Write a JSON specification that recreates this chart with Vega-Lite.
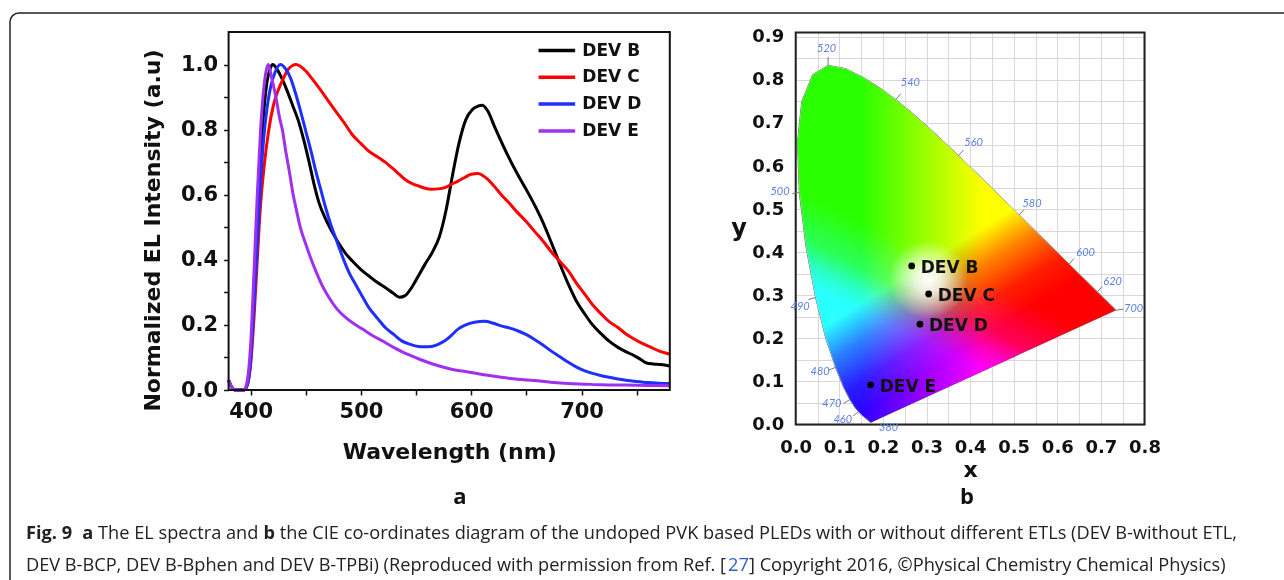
{
  "$schema": "https://vega.github.io/schema/vega-lite/v6.json",
  "width": 1284,
  "height": 580,
  "autosize": {"type": "fit", "contains": "padding"},
  "padding": {"left": 10, "top": 13, "right": -8, "bottom": -8},
  "background": "white",
  "config": {
    "view": {"stroke": "#222222", "strokeWidth": 1.5, "cornerRadius": 9},
    "axis": {
      "labelFont": "DejaVu Sans", "titleFont": "DejaVu Sans",
      "labelFontWeight": "bold", "titleFontWeight": "bold",
      "labelColor": "#111111", "titleColor": "#111111",
      "labelOverlap": false, "labelFlush": false, "domain": false
    },
    "legend": {
      "orient": "none", "legendX": 535.85, "legendY": 26.5, "padding": 0,
      "symbolType": "M-2,0H2", "symbolSize": 335, "symbolStrokeWidth": 3.5,
      "labelFont": "DejaVu Sans", "labelFontWeight": "bold", "labelFontSize": 17,
      "labelColor": "#111111", "labelOffset": 14.5, "rowPadding": 7.8
    }
  },
  "datasets": {
    "spectra": [
      {"dev": "DEV B", "nm": 380, "v": 0.03}, {"dev": "DEV B", "nm": 383, "v": 0.008}, {"dev": "DEV B", "nm": 386, "v": 0}, {"dev": "DEV B", "nm": 390, "v": 0}, {"dev": "DEV B", "nm": 394, "v": 0}, {"dev": "DEV B", "nm": 397, "v": 0.02},
      {"dev": "DEV B", "nm": 400, "v": 0.1}, {"dev": "DEV B", "nm": 403, "v": 0.3}, {"dev": "DEV B", "nm": 406, "v": 0.52}, {"dev": "DEV B", "nm": 409, "v": 0.72}, {"dev": "DEV B", "nm": 412, "v": 0.86}, {"dev": "DEV B", "nm": 415, "v": 0.95},
      {"dev": "DEV B", "nm": 418, "v": 0.99}, {"dev": "DEV B", "nm": 420, "v": 1.0}, {"dev": "DEV B", "nm": 424, "v": 0.985}, {"dev": "DEV B", "nm": 428, "v": 0.96}, {"dev": "DEV B", "nm": 433, "v": 0.92}, {"dev": "DEV B", "nm": 438, "v": 0.875},
      {"dev": "DEV B", "nm": 443, "v": 0.83}, {"dev": "DEV B", "nm": 448, "v": 0.77}, {"dev": "DEV B", "nm": 453, "v": 0.7}, {"dev": "DEV B", "nm": 458, "v": 0.625}, {"dev": "DEV B", "nm": 462, "v": 0.575}, {"dev": "DEV B", "nm": 468, "v": 0.525},
      {"dev": "DEV B", "nm": 474, "v": 0.485}, {"dev": "DEV B", "nm": 480, "v": 0.45}, {"dev": "DEV B", "nm": 486, "v": 0.42}, {"dev": "DEV B", "nm": 492, "v": 0.397}, {"dev": "DEV B", "nm": 500, "v": 0.37}, {"dev": "DEV B", "nm": 507, "v": 0.351},
      {"dev": "DEV B", "nm": 515, "v": 0.33}, {"dev": "DEV B", "nm": 522, "v": 0.315}, {"dev": "DEV B", "nm": 529, "v": 0.298}, {"dev": "DEV B", "nm": 535, "v": 0.285}, {"dev": "DEV B", "nm": 540, "v": 0.29}, {"dev": "DEV B", "nm": 546, "v": 0.315},
      {"dev": "DEV B", "nm": 552, "v": 0.35}, {"dev": "DEV B", "nm": 558, "v": 0.386}, {"dev": "DEV B", "nm": 565, "v": 0.425}, {"dev": "DEV B", "nm": 571, "v": 0.47}, {"dev": "DEV B", "nm": 577, "v": 0.55}, {"dev": "DEV B", "nm": 583, "v": 0.66},
      {"dev": "DEV B", "nm": 589, "v": 0.76}, {"dev": "DEV B", "nm": 595, "v": 0.83}, {"dev": "DEV B", "nm": 601, "v": 0.862}, {"dev": "DEV B", "nm": 606, "v": 0.872}, {"dev": "DEV B", "nm": 610, "v": 0.875}, {"dev": "DEV B", "nm": 615, "v": 0.857},
      {"dev": "DEV B", "nm": 621, "v": 0.81}, {"dev": "DEV B", "nm": 627, "v": 0.765}, {"dev": "DEV B", "nm": 634, "v": 0.715}, {"dev": "DEV B", "nm": 642, "v": 0.663}, {"dev": "DEV B", "nm": 650, "v": 0.615}, {"dev": "DEV B", "nm": 657, "v": 0.571},
      {"dev": "DEV B", "nm": 665, "v": 0.515}, {"dev": "DEV B", "nm": 672, "v": 0.458}, {"dev": "DEV B", "nm": 680, "v": 0.39}, {"dev": "DEV B", "nm": 688, "v": 0.325}, {"dev": "DEV B", "nm": 695, "v": 0.275}, {"dev": "DEV B", "nm": 703, "v": 0.233},
      {"dev": "DEV B", "nm": 710, "v": 0.2}, {"dev": "DEV B", "nm": 718, "v": 0.172}, {"dev": "DEV B", "nm": 725, "v": 0.15}, {"dev": "DEV B", "nm": 733, "v": 0.131}, {"dev": "DEV B", "nm": 740, "v": 0.118}, {"dev": "DEV B", "nm": 748, "v": 0.105},
      {"dev": "DEV B", "nm": 754, "v": 0.093}, {"dev": "DEV B", "nm": 759, "v": 0.083}, {"dev": "DEV B", "nm": 765, "v": 0.08}, {"dev": "DEV B", "nm": 772, "v": 0.078}, {"dev": "DEV B", "nm": 780, "v": 0.074},

      {"dev": "DEV C", "nm": 380, "v": 0.03}, {"dev": "DEV C", "nm": 383, "v": 0.008}, {"dev": "DEV C", "nm": 386, "v": 0}, {"dev": "DEV C", "nm": 390, "v": 0}, {"dev": "DEV C", "nm": 394, "v": 0}, {"dev": "DEV C", "nm": 397, "v": 0.015},
      {"dev": "DEV C", "nm": 400, "v": 0.08}, {"dev": "DEV C", "nm": 403, "v": 0.22}, {"dev": "DEV C", "nm": 406, "v": 0.4}, {"dev": "DEV C", "nm": 409, "v": 0.57}, {"dev": "DEV C", "nm": 412, "v": 0.68}, {"dev": "DEV C", "nm": 416, "v": 0.79},
      {"dev": "DEV C", "nm": 421, "v": 0.88}, {"dev": "DEV C", "nm": 426, "v": 0.93}, {"dev": "DEV C", "nm": 430, "v": 0.96}, {"dev": "DEV C", "nm": 434, "v": 0.985}, {"dev": "DEV C", "nm": 438, "v": 0.997}, {"dev": "DEV C", "nm": 441, "v": 1.0},
      {"dev": "DEV C", "nm": 445, "v": 0.995}, {"dev": "DEV C", "nm": 450, "v": 0.98}, {"dev": "DEV C", "nm": 456, "v": 0.955}, {"dev": "DEV C", "nm": 462, "v": 0.928}, {"dev": "DEV C", "nm": 470, "v": 0.89}, {"dev": "DEV C", "nm": 477, "v": 0.857},
      {"dev": "DEV C", "nm": 485, "v": 0.82}, {"dev": "DEV C", "nm": 492, "v": 0.785}, {"dev": "DEV C", "nm": 500, "v": 0.757}, {"dev": "DEV C", "nm": 507, "v": 0.734}, {"dev": "DEV C", "nm": 516, "v": 0.714}, {"dev": "DEV C", "nm": 522, "v": 0.7},
      {"dev": "DEV C", "nm": 528, "v": 0.683}, {"dev": "DEV C", "nm": 534, "v": 0.665}, {"dev": "DEV C", "nm": 540, "v": 0.647}, {"dev": "DEV C", "nm": 546, "v": 0.635}, {"dev": "DEV C", "nm": 552, "v": 0.627}, {"dev": "DEV C", "nm": 558, "v": 0.62},
      {"dev": "DEV C", "nm": 564, "v": 0.617}, {"dev": "DEV C", "nm": 570, "v": 0.618}, {"dev": "DEV C", "nm": 576, "v": 0.622}, {"dev": "DEV C", "nm": 582, "v": 0.632}, {"dev": "DEV C", "nm": 588, "v": 0.642}, {"dev": "DEV C", "nm": 594, "v": 0.653},
      {"dev": "DEV C", "nm": 600, "v": 0.663}, {"dev": "DEV C", "nm": 606, "v": 0.665}, {"dev": "DEV C", "nm": 610, "v": 0.66}, {"dev": "DEV C", "nm": 615, "v": 0.647}, {"dev": "DEV C", "nm": 621, "v": 0.625}, {"dev": "DEV C", "nm": 627, "v": 0.601},
      {"dev": "DEV C", "nm": 635, "v": 0.572}, {"dev": "DEV C", "nm": 642, "v": 0.545}, {"dev": "DEV C", "nm": 650, "v": 0.517}, {"dev": "DEV C", "nm": 657, "v": 0.489}, {"dev": "DEV C", "nm": 665, "v": 0.458}, {"dev": "DEV C", "nm": 672, "v": 0.427},
      {"dev": "DEV C", "nm": 680, "v": 0.396}, {"dev": "DEV C", "nm": 688, "v": 0.366}, {"dev": "DEV C", "nm": 695, "v": 0.33}, {"dev": "DEV C", "nm": 703, "v": 0.294}, {"dev": "DEV C", "nm": 710, "v": 0.262}, {"dev": "DEV C", "nm": 718, "v": 0.233},
      {"dev": "DEV C", "nm": 725, "v": 0.21}, {"dev": "DEV C", "nm": 733, "v": 0.192}, {"dev": "DEV C", "nm": 740, "v": 0.173}, {"dev": "DEV C", "nm": 748, "v": 0.156}, {"dev": "DEV C", "nm": 755, "v": 0.143}, {"dev": "DEV C", "nm": 763, "v": 0.131},
      {"dev": "DEV C", "nm": 770, "v": 0.12}, {"dev": "DEV C", "nm": 780, "v": 0.11},

      {"dev": "DEV D", "nm": 380, "v": 0.03}, {"dev": "DEV D", "nm": 383, "v": 0.008}, {"dev": "DEV D", "nm": 386, "v": 0}, {"dev": "DEV D", "nm": 390, "v": 0}, {"dev": "DEV D", "nm": 394, "v": 0}, {"dev": "DEV D", "nm": 397, "v": 0.015},
      {"dev": "DEV D", "nm": 400, "v": 0.09}, {"dev": "DEV D", "nm": 403, "v": 0.26}, {"dev": "DEV D", "nm": 406, "v": 0.45}, {"dev": "DEV D", "nm": 409, "v": 0.64}, {"dev": "DEV D", "nm": 412, "v": 0.78}, {"dev": "DEV D", "nm": 415, "v": 0.87},
      {"dev": "DEV D", "nm": 418, "v": 0.93}, {"dev": "DEV D", "nm": 422, "v": 0.975}, {"dev": "DEV D", "nm": 427, "v": 1.0}, {"dev": "DEV D", "nm": 432, "v": 0.985}, {"dev": "DEV D", "nm": 436, "v": 0.96}, {"dev": "DEV D", "nm": 441, "v": 0.908},
      {"dev": "DEV D", "nm": 445, "v": 0.86}, {"dev": "DEV D", "nm": 450, "v": 0.795}, {"dev": "DEV D", "nm": 455, "v": 0.73}, {"dev": "DEV D", "nm": 459, "v": 0.673}, {"dev": "DEV D", "nm": 464, "v": 0.61}, {"dev": "DEV D", "nm": 468, "v": 0.56},
      {"dev": "DEV D", "nm": 472, "v": 0.515}, {"dev": "DEV D", "nm": 477, "v": 0.468}, {"dev": "DEV D", "nm": 481, "v": 0.43}, {"dev": "DEV D", "nm": 486, "v": 0.386}, {"dev": "DEV D", "nm": 490, "v": 0.355}, {"dev": "DEV D", "nm": 495, "v": 0.325},
      {"dev": "DEV D", "nm": 500, "v": 0.295}, {"dev": "DEV D", "nm": 507, "v": 0.254}, {"dev": "DEV D", "nm": 515, "v": 0.22}, {"dev": "DEV D", "nm": 522, "v": 0.192}, {"dev": "DEV D", "nm": 530, "v": 0.17}, {"dev": "DEV D", "nm": 537, "v": 0.151},
      {"dev": "DEV D", "nm": 545, "v": 0.14}, {"dev": "DEV D", "nm": 552, "v": 0.134}, {"dev": "DEV D", "nm": 558, "v": 0.133}, {"dev": "DEV D", "nm": 564, "v": 0.134}, {"dev": "DEV D", "nm": 570, "v": 0.14}, {"dev": "DEV D", "nm": 576, "v": 0.151},
      {"dev": "DEV D", "nm": 582, "v": 0.168}, {"dev": "DEV D", "nm": 588, "v": 0.187}, {"dev": "DEV D", "nm": 595, "v": 0.2}, {"dev": "DEV D", "nm": 603, "v": 0.208}, {"dev": "DEV D", "nm": 612, "v": 0.211}, {"dev": "DEV D", "nm": 620, "v": 0.205},
      {"dev": "DEV D", "nm": 627, "v": 0.197}, {"dev": "DEV D", "nm": 635, "v": 0.19}, {"dev": "DEV D", "nm": 642, "v": 0.182}, {"dev": "DEV D", "nm": 650, "v": 0.17}, {"dev": "DEV D", "nm": 657, "v": 0.156}, {"dev": "DEV D", "nm": 665, "v": 0.138},
      {"dev": "DEV D", "nm": 672, "v": 0.121}, {"dev": "DEV D", "nm": 680, "v": 0.103}, {"dev": "DEV D", "nm": 688, "v": 0.085}, {"dev": "DEV D", "nm": 695, "v": 0.071}, {"dev": "DEV D", "nm": 703, "v": 0.059}, {"dev": "DEV D", "nm": 710, "v": 0.051},
      {"dev": "DEV D", "nm": 718, "v": 0.044}, {"dev": "DEV D", "nm": 725, "v": 0.039}, {"dev": "DEV D", "nm": 733, "v": 0.034}, {"dev": "DEV D", "nm": 740, "v": 0.03}, {"dev": "DEV D", "nm": 748, "v": 0.027}, {"dev": "DEV D", "nm": 760, "v": 0.023},
      {"dev": "DEV D", "nm": 770, "v": 0.021}, {"dev": "DEV D", "nm": 780, "v": 0.02},

      {"dev": "DEV E", "nm": 380, "v": 0.03}, {"dev": "DEV E", "nm": 383, "v": 0.008}, {"dev": "DEV E", "nm": 386, "v": 0}, {"dev": "DEV E", "nm": 390, "v": 0}, {"dev": "DEV E", "nm": 394, "v": 0}, {"dev": "DEV E", "nm": 397, "v": 0.03},
      {"dev": "DEV E", "nm": 400, "v": 0.14}, {"dev": "DEV E", "nm": 403, "v": 0.36}, {"dev": "DEV E", "nm": 406, "v": 0.6}, {"dev": "DEV E", "nm": 409, "v": 0.8}, {"dev": "DEV E", "nm": 412, "v": 0.93}, {"dev": "DEV E", "nm": 414, "v": 0.98},
      {"dev": "DEV E", "nm": 416, "v": 1.0}, {"dev": "DEV E", "nm": 419, "v": 0.96}, {"dev": "DEV E", "nm": 423, "v": 0.898}, {"dev": "DEV E", "nm": 426, "v": 0.84}, {"dev": "DEV E", "nm": 429, "v": 0.795}, {"dev": "DEV E", "nm": 432, "v": 0.73},
      {"dev": "DEV E", "nm": 435, "v": 0.673}, {"dev": "DEV E", "nm": 438, "v": 0.61}, {"dev": "DEV E", "nm": 441, "v": 0.56}, {"dev": "DEV E", "nm": 445, "v": 0.5}, {"dev": "DEV E", "nm": 450, "v": 0.448}, {"dev": "DEV E", "nm": 455, "v": 0.4},
      {"dev": "DEV E", "nm": 459, "v": 0.366}, {"dev": "DEV E", "nm": 465, "v": 0.32}, {"dev": "DEV E", "nm": 471, "v": 0.284}, {"dev": "DEV E", "nm": 478, "v": 0.25}, {"dev": "DEV E", "nm": 486, "v": 0.223}, {"dev": "DEV E", "nm": 493, "v": 0.205},
      {"dev": "DEV E", "nm": 501, "v": 0.188}, {"dev": "DEV E", "nm": 510, "v": 0.168}, {"dev": "DEV E", "nm": 522, "v": 0.146}, {"dev": "DEV E", "nm": 530, "v": 0.13}, {"dev": "DEV E", "nm": 537, "v": 0.118}, {"dev": "DEV E", "nm": 545, "v": 0.106},
      {"dev": "DEV E", "nm": 552, "v": 0.096}, {"dev": "DEV E", "nm": 565, "v": 0.08}, {"dev": "DEV E", "nm": 582, "v": 0.064}, {"dev": "DEV E", "nm": 600, "v": 0.054}, {"dev": "DEV E", "nm": 615, "v": 0.045}, {"dev": "DEV E", "nm": 627, "v": 0.039},
      {"dev": "DEV E", "nm": 642, "v": 0.033}, {"dev": "DEV E", "nm": 657, "v": 0.029}, {"dev": "DEV E", "nm": 672, "v": 0.024}, {"dev": "DEV E", "nm": 688, "v": 0.02}, {"dev": "DEV E", "nm": 703, "v": 0.018}, {"dev": "DEV E", "nm": 718, "v": 0.016},
      {"dev": "DEV E", "nm": 740, "v": 0.015}, {"dev": "DEV E", "nm": 760, "v": 0.014}, {"dev": "DEV E", "nm": 780, "v": 0.013}
    ],
    "locus": [
      {"nm": 380, "cx": 0.1741, "cy": 0.0050}, {"nm": 400, "cx": 0.1733, "cy": 0.0048}, {"nm": 410, "cx": 0.1726, "cy": 0.0048}, {"nm": 420, "cx": 0.1714, "cy": 0.0051},
      {"nm": 430, "cx": 0.1689, "cy": 0.0069}, {"nm": 440, "cx": 0.1644, "cy": 0.0109}, {"nm": 450, "cx": 0.1566, "cy": 0.0177}, {"nm": 455, "cx": 0.1510, "cy": 0.0223},
      {"nm": 460, "cx": 0.1440, "cy": 0.0297}, {"nm": 465, "cx": 0.1355, "cy": 0.0399}, {"nm": 470, "cx": 0.1241, "cy": 0.0578}, {"nm": 475, "cx": 0.1096, "cy": 0.0868},
      {"nm": 480, "cx": 0.0913, "cy": 0.1327}, {"nm": 485, "cx": 0.0687, "cy": 0.2007}, {"nm": 490, "cx": 0.0454, "cy": 0.2950}, {"nm": 495, "cx": 0.0235, "cy": 0.4127},
      {"nm": 500, "cx": 0.0082, "cy": 0.5384}, {"nm": 505, "cx": 0.0039, "cy": 0.6548}, {"nm": 510, "cx": 0.0139, "cy": 0.7502}, {"nm": 515, "cx": 0.0389, "cy": 0.8120},
      {"nm": 520, "cx": 0.0743, "cy": 0.8338}, {"nm": 525, "cx": 0.1142, "cy": 0.8262}, {"nm": 530, "cx": 0.1547, "cy": 0.8059}, {"nm": 535, "cx": 0.1929, "cy": 0.7816},
      {"nm": 540, "cx": 0.2296, "cy": 0.7543}, {"nm": 545, "cx": 0.2658, "cy": 0.7243}, {"nm": 550, "cx": 0.3016, "cy": 0.6923}, {"nm": 555, "cx": 0.3373, "cy": 0.6589},
      {"nm": 560, "cx": 0.3731, "cy": 0.6245}, {"nm": 565, "cx": 0.4087, "cy": 0.5896}, {"nm": 570, "cx": 0.4441, "cy": 0.5547}, {"nm": 575, "cx": 0.4788, "cy": 0.5202},
      {"nm": 580, "cx": 0.5125, "cy": 0.4866}, {"nm": 585, "cx": 0.5448, "cy": 0.4544}, {"nm": 590, "cx": 0.5752, "cy": 0.4242}, {"nm": 595, "cx": 0.6029, "cy": 0.3965},
      {"nm": 600, "cx": 0.6270, "cy": 0.3725}, {"nm": 605, "cx": 0.6482, "cy": 0.3514}, {"nm": 610, "cx": 0.6658, "cy": 0.3340}, {"nm": 620, "cx": 0.6915, "cy": 0.3083},
      {"nm": 630, "cx": 0.7079, "cy": 0.2920}, {"nm": 640, "cx": 0.7190, "cy": 0.2809}, {"nm": 650, "cx": 0.7260, "cy": 0.2740}, {"nm": 660, "cx": 0.7300, "cy": 0.2700},
      {"nm": 680, "cx": 0.7334, "cy": 0.2666}, {"nm": 700, "cx": 0.7347, "cy": 0.2653}
    ],
    "locus_ticks": [
      {"cx": 0.0743, "cy": 0.8338, "tx": 0.0743, "ty": 0.853}, {"cx": 0.2296, "cy": 0.7543, "tx": 0.241, "ty": 0.768},
      {"cx": 0.3731, "cy": 0.6245, "tx": 0.385, "ty": 0.637}, {"cx": 0.5125, "cy": 0.4866, "tx": 0.524, "ty": 0.499},
      {"cx": 0.6270, "cy": 0.3725, "tx": 0.638, "ty": 0.385}, {"cx": 0.6915, "cy": 0.3083, "tx": 0.703, "ty": 0.32},
      {"cx": 0.7347, "cy": 0.2653, "tx": 0.752, "ty": 0.268}, {"cx": 0.0082, "cy": 0.5384, "tx": -0.008, "ty": 0.536},
      {"cx": 0.0454, "cy": 0.2950, "tx": 0.029, "ty": 0.29}, {"cx": 0.0913, "cy": 0.1327, "tx": 0.075, "ty": 0.126},
      {"cx": 0.1241, "cy": 0.0578, "tx": 0.11, "ty": 0.049}, {"cx": 0.1440, "cy": 0.0297, "tx": 0.132, "ty": 0.02}
    ],
    "locus_labels": [
      {"nm": "520", "lx": 0.071, "ly": 0.871}, {"nm": "540", "lx": 0.263, "ly": 0.792}, {"nm": "560", "lx": 0.408, "ly": 0.653},
      {"nm": "580", "lx": 0.542, "ly": 0.513}, {"nm": "600", "lx": 0.665, "ly": 0.397}, {"nm": "620", "lx": 0.727, "ly": 0.331},
      {"nm": "700", "lx": 0.775, "ly": 0.267}, {"nm": "500", "lx": -0.036, "ly": 0.54}, {"nm": "490", "lx": 0.01, "ly": 0.273},
      {"nm": "480", "lx": 0.056, "ly": 0.123}, {"nm": "470", "lx": 0.083, "ly": 0.047}, {"nm": "460", "lx": 0.108, "ly": 0.011},
      {"nm": "380", "lx": 0.213, "ly": -0.007}
    ],
    "cie_points": [
      {"dev": "DEV B", "cx": 0.266, "cy": 0.368}, {"dev": "DEV C", "cx": 0.305, "cy": 0.303},
      {"dev": "DEV D", "cx": 0.285, "cy": 0.233}, {"dev": "DEV E", "cx": 0.172, "cy": 0.092}
    ],
    "caption_regular": [
      {"line": 1, "pos": 0.0591, "text": "The EL spectra and"},
      {"line": 1, "pos": 0.208, "text": "the CIE co-ordinates diagram of the undoped PVK based PLEDs with or without different ETLs (DEV B-without ETL,"},
      {"line": 2, "pos": 0, "text": "DEV B-BCP, DEV B-Bphen and DEV B-TPBi) (Reproduced with permission from Ref. ["},
      {"line": 2, "pos": 0.5926, "text": "] Copyright 2016, ©Physical Chemistry Chemical Physics)"}
    ],
    "caption_bold": [
      {"line": 1, "pos": 0, "text": "Fig. 9"},
      {"line": 1, "pos": 0.0462, "text": "a"},
      {"line": 1, "pos": 0.1946, "text": "b"}
    ],
    "caption_link": [
      {"line": 2, "pos": 0.5755, "text": "27"}
    ],
    "panel_letters": [
      {"line": -0.14, "pos": 0.3557, "text": "a"},
      {"line": -0.14, "pos": 0.7713, "text": "b"}
    ]
  },
  "layer": [
    {
      "data": {"name": "spectra"},
      "mark": {"type": "line", "strokeWidth": 3, "interpolate": "monotone", "clip": true},
      "encoding": {
        "x": {
          "field": "nm", "type": "quantitative",
          "scale": {"domain": [380, 780], "range": [218.6, 659.8], "nice": false, "zero": false},
          "axis": {
            "orient": "bottom", "offset": -198,
            "values": [400, 450, 500, 550, 600, 650, 700, 750],
            "labelExpr": "datum.value % 100 === 0 ? datum.label : ''",
            "labelFontSize": 21, "labelPadding": 5,
            "tickSize": 5, "tickWidth": 1.5, "tickColor": "#111111", "grid": false,
            "title": "Wavelength (nm)", "titleFontSize": 22, "titlePadding": 20
          }
        },
        "y": {
          "field": "v", "type": "quantitative",
          "scale": {"domain": [0, 1.1], "range": [377, 19], "nice": false, "zero": false},
          "axis": {
            "orient": "left", "offset": -218.6,
            "values": [0, 0.1, 0.2, 0.3, 0.4, 0.5, 0.6, 0.7, 0.8, 0.9, 1.0],
            "labelExpr": "round(datum.value * 10) % 2 === 0 ? format(datum.value, '.1f') : ''",
            "labelFontSize": 21, "labelPadding": 6,
            "tickSize": 5, "tickWidth": 1.5, "tickColor": "#111111", "grid": false,
            "title": "Normalized EL Intensity (a.u)", "titleFontSize": 22, "titlePadding": 16, "titleY": 217
          }
        },
        "color": {
          "field": "dev", "type": "nominal",
          "scale": {"domain": ["DEV B", "DEV C", "DEV D", "DEV E"], "range": ["#000000", "#ff0000", "#1f2fff", "#a030f0"]},
          "legend": {"title": null}
        },
        "order": {"field": "nm", "type": "quantitative"}
      }
    },
    {
      "data": {"values": [{}]},
      "mark": {"type": "rect", "filled": false, "stroke": "#111111", "strokeWidth": 2},
      "encoding": {
        "x": {"datum": 380, "type": "quantitative", "scale": {"domain": [380, 780], "range": [218.6, 659.8], "nice": false, "zero": false}, "axis": null},
        "x2": {"datum": 780},
        "y": {"datum": 0, "type": "quantitative", "scale": {"domain": [0, 1.1], "range": [377, 19], "nice": false, "zero": false}, "axis": null},
        "y2": {"datum": 1.1}
      }
    },
    {
      "data": {"name": "locus"},
      "mark": {"type": "line", "fill": "#000000", "stroke": "#707070", "strokeWidth": 1},
      "encoding": {
        "x": {
          "field": "cx", "type": "quantitative",
          "scale": {"domain": [0, 0.8], "range": [785.7, 1134.5], "nice": false, "zero": false},
          "axis": {
            "orient": "bottom", "offset": -163.5,
            "values": [0, 0.1, 0.2, 0.3, 0.4, 0.5, 0.6, 0.7, 0.8],
            "format": ".1f",
            "labelFontSize": 18, "labelPadding": 14, "ticks": false, "grid": false,
            "title": "x", "titleFontSize": 22, "titlePadding": 3
          }
        },
        "y": {
          "field": "cy", "type": "quantitative",
          "scale": {"domain": [0, 0.91], "range": [411.5, 19.5], "nice": false, "zero": false},
          "axis": {
            "orient": "left", "offset": -785.7,
            "values": [0, 0.05, 0.1, 0.15, 0.2, 0.25, 0.3, 0.35, 0.4, 0.45, 0.5, 0.55, 0.6, 0.65, 0.7, 0.75, 0.8, 0.85, 0.9],
            "labelExpr": "round(datum.value * 100) % 10 === 0 ? format(datum.value, '.1f') : ''",
            "labelFontSize": 18, "labelPadding": 12, "ticks": false,
            "grid": true, "gridColor": "#d8d8d8", "gridWidth": 1,
            "title": "y", "titleFontSize": 24, "titleAngle": 0, "titleX": -57, "titleY": 215,
            "titleAlign": "center", "titleBaseline": "middle"
          }
        },
        "order": {"field": "nm", "type": "quantitative"}
      }
    },
    {
      "data": {"name": "locus"},
      "mark": {
        "type": "line", "strokeOpacity": 0, "strokeWidth": 0, "blend": "screen",
        "fill": {"gradient": "linear", "x1": 0, "y1": 0.5, "x2": 1, "y2": 0.5,
          "stops": [{"offset": 0, "color": "#2a0000"}, {"offset": 0.2, "color": "#2a0000"}, {"offset": 0.58, "color": "#ff0000"}, {"offset": 1, "color": "#ff0000"}]}
      },
      "encoding": {
        "x": {"field": "cx", "type": "quantitative", "scale": {"domain": [0, 0.8], "range": [785.7, 1134.5], "nice": false, "zero": false}, "axis": null},
        "y": {"field": "cy", "type": "quantitative", "scale": {"domain": [0, 0.91], "range": [411.5, 19.5], "nice": false, "zero": false}, "axis": null},
        "order": {"field": "nm", "type": "quantitative"}
      }
    },
    {
      "data": {"name": "locus"},
      "mark": {
        "type": "line", "strokeOpacity": 0, "strokeWidth": 0, "blend": "screen",
        "fill": {"gradient": "linear", "x1": 0, "y1": 0, "x2": 0.487, "y2": 0.874,
          "stops": [{"offset": 0, "color": "#00ff00"}, {"offset": 0.68, "color": "#00ff00"}, {"offset": 0.77, "color": "#008200"}, {"offset": 0.87, "color": "#001e00"}, {"offset": 0.95, "color": "#000000"}, {"offset": 1, "color": "#000000"}]}
      },
      "encoding": {
        "x": {"field": "cx", "type": "quantitative", "scale": {"domain": [0, 0.8], "range": [785.7, 1134.5], "nice": false, "zero": false}, "axis": null},
        "y": {"field": "cy", "type": "quantitative", "scale": {"domain": [0, 0.91], "range": [411.5, 19.5], "nice": false, "zero": false}, "axis": null},
        "order": {"field": "nm", "type": "quantitative"}
      }
    },
    {
      "data": {"name": "locus"},
      "mark": {
        "type": "line", "strokeOpacity": 0, "strokeWidth": 0, "blend": "screen",
        "fill": {"gradient": "linear", "x1": 0.4, "y1": 0, "x2": 0, "y2": 0.9165,
          "stops": [{"offset": 0, "color": "#000000"}, {"offset": 0.48, "color": "#000000"}, {"offset": 0.6, "color": "#00005a"}, {"offset": 0.66, "color": "#0000c8"}, {"offset": 0.71, "color": "#0000ff"}, {"offset": 1, "color": "#0000ff"}]}
      },
      "encoding": {
        "x": {"field": "cx", "type": "quantitative", "scale": {"domain": [0, 0.8], "range": [785.7, 1134.5], "nice": false, "zero": false}, "axis": null},
        "y": {"field": "cy", "type": "quantitative", "scale": {"domain": [0, 0.91], "range": [411.5, 19.5], "nice": false, "zero": false}, "axis": null},
        "order": {"field": "nm", "type": "quantitative"}
      }
    },
    {
      "data": {"name": "locus"},
      "mark": {
        "type": "line", "strokeOpacity": 0, "strokeWidth": 0, "blend": "screen",
        "fill": {"gradient": "radial", "x1": 0.42, "y1": 0.6, "r1": 0, "x2": 0.42, "y2": 0.6, "r2": 0.11,
          "stops": [{"offset": 0, "color": "#ffffff"}, {"offset": 0.35, "color": "#c8c8c8"}, {"offset": 1, "color": "#000000"}]}
      },
      "encoding": {
        "x": {"field": "cx", "type": "quantitative", "scale": {"domain": [0, 0.8], "range": [785.7, 1134.5], "nice": false, "zero": false}, "axis": null},
        "y": {"field": "cy", "type": "quantitative", "scale": {"domain": [0, 0.91], "range": [411.5, 19.5], "nice": false, "zero": false}, "axis": null},
        "order": {"field": "nm", "type": "quantitative"}
      }
    },
    {
      "data": {"values": [{}]},
      "mark": {"type": "rect", "filled": false, "stroke": "#222222", "strokeWidth": 2},
      "encoding": {
        "x": {
          "datum": 0, "type": "quantitative",
          "scale": {"domain": [0, 0.8], "range": [785.7, 1134.5], "nice": false, "zero": false},
          "axis": {
            "orient": "top", "offset": 0,
            "values": [0, 0.05, 0.1, 0.15, 0.2, 0.25, 0.3, 0.35, 0.4, 0.45, 0.5, 0.55, 0.6, 0.65, 0.7, 0.75, 0.8],
            "labels": false, "ticks": false, "title": null,
            "grid": true, "gridColor": "#d8d8d8", "gridWidth": 1
          }
        },
        "x2": {"datum": 0.8},
        "y": {"datum": 0, "type": "quantitative", "scale": {"domain": [0, 0.91], "range": [411.5, 19.5], "nice": false, "zero": false}, "axis": null},
        "y2": {"datum": 0.91}
      }
    },
    {
      "data": {"name": "locus_ticks"},
      "mark": {"type": "rule", "color": "#777777", "strokeWidth": 1},
      "encoding": {
        "x": {"field": "cx", "type": "quantitative", "scale": {"domain": [0, 0.8], "range": [785.7, 1134.5], "nice": false, "zero": false}, "axis": null},
        "y": {"field": "cy", "type": "quantitative", "scale": {"domain": [0, 0.91], "range": [411.5, 19.5], "nice": false, "zero": false}, "axis": null},
        "x2": {"field": "tx"},
        "y2": {"field": "ty"}
      }
    },
    {
      "data": {"name": "locus_labels"},
      "mark": {"type": "text", "font": "Lato", "fontSize": 11, "fontStyle": "italic", "color": "#5a7fe0", "align": "center", "baseline": "middle"},
      "encoding": {
        "x": {"field": "lx", "type": "quantitative", "scale": {"domain": [0, 0.8], "range": [785.7, 1134.5], "nice": false, "zero": false}, "axis": null},
        "y": {"field": "ly", "type": "quantitative", "scale": {"domain": [0, 0.91], "range": [411.5, 19.5], "nice": false, "zero": false}, "axis": null},
        "text": {"field": "nm"}
      }
    },
    {
      "data": {"name": "cie_points"},
      "mark": {"type": "point", "filled": true, "color": "#000000", "size": 45, "opacity": 1},
      "encoding": {
        "x": {"field": "cx", "type": "quantitative", "scale": {"domain": [0, 0.8], "range": [785.7, 1134.5], "nice": false, "zero": false}, "axis": null},
        "y": {"field": "cy", "type": "quantitative", "scale": {"domain": [0, 0.91], "range": [411.5, 19.5], "nice": false, "zero": false}, "axis": null}
      }
    },
    {
      "data": {"name": "cie_points"},
      "mark": {"type": "text", "font": "DejaVu Sans", "fontWeight": "bold", "fontSize": 17, "color": "#111111", "align": "left", "baseline": "middle", "dx": 9, "dy": 2},
      "encoding": {
        "x": {"field": "cx", "type": "quantitative", "scale": {"domain": [0, 0.8], "range": [785.7, 1134.5], "nice": false, "zero": false}, "axis": null},
        "y": {"field": "cy", "type": "quantitative", "scale": {"domain": [0, 0.91], "range": [411.5, 19.5], "nice": false, "zero": false}, "axis": null},
        "text": {"field": "dev"}
      }
    },
    {
      "data": {"name": "caption_regular"},
      "mark": {"type": "text", "font": "Open Sans", "fontSize": 18.2, "color": "#222222", "align": "left", "baseline": "alphabetic"},
      "encoding": {
        "x": {"field": "pos", "type": "quantitative", "scale": {"domain": [0, 1], "range": [16, 1236], "nice": false, "zero": false}, "axis": null},
        "y": {"field": "line", "type": "quantitative", "scale": {"domain": [1, 2], "range": [526.3, 557.7], "nice": false, "zero": false}, "axis": null},
        "text": {"field": "text"}
      }
    },
    {
      "data": {"name": "caption_bold"},
      "mark": {"type": "text", "font": "Open Sans", "fontSize": 18.2, "fontWeight": "bold", "color": "#222222", "align": "left", "baseline": "alphabetic"},
      "encoding": {
        "x": {"field": "pos", "type": "quantitative", "scale": {"domain": [0, 1], "range": [16, 1236], "nice": false, "zero": false}, "axis": null},
        "y": {"field": "line", "type": "quantitative", "scale": {"domain": [1, 2], "range": [526.3, 557.7], "nice": false, "zero": false}, "axis": null},
        "text": {"field": "text"}
      }
    },
    {
      "data": {"name": "caption_link"},
      "mark": {"type": "text", "font": "Open Sans", "fontSize": 18.2, "color": "#2f5fd0", "align": "left", "baseline": "alphabetic"},
      "encoding": {
        "x": {"field": "pos", "type": "quantitative", "scale": {"domain": [0, 1], "range": [16, 1236], "nice": false, "zero": false}, "axis": null},
        "y": {"field": "line", "type": "quantitative", "scale": {"domain": [1, 2], "range": [526.3, 557.7], "nice": false, "zero": false}, "axis": null},
        "text": {"field": "text"}
      }
    },
    {
      "data": {"name": "panel_letters"},
      "mark": {"type": "text", "font": "Open Sans", "fontSize": 22, "fontWeight": "bold", "color": "#111111", "align": "center", "baseline": "alphabetic"},
      "encoding": {
        "x": {"field": "pos", "type": "quantitative", "scale": {"domain": [0, 1], "range": [16, 1236], "nice": false, "zero": false}, "axis": null},
        "y": {"field": "line", "type": "quantitative", "scale": {"domain": [1, 2], "range": [526.3, 557.7], "nice": false, "zero": false}, "axis": null},
        "text": {"field": "text"}
      }
    }
  ],
  "resolve": {"scale": {"x": "independent", "y": "independent", "color": "independent"}}
}
